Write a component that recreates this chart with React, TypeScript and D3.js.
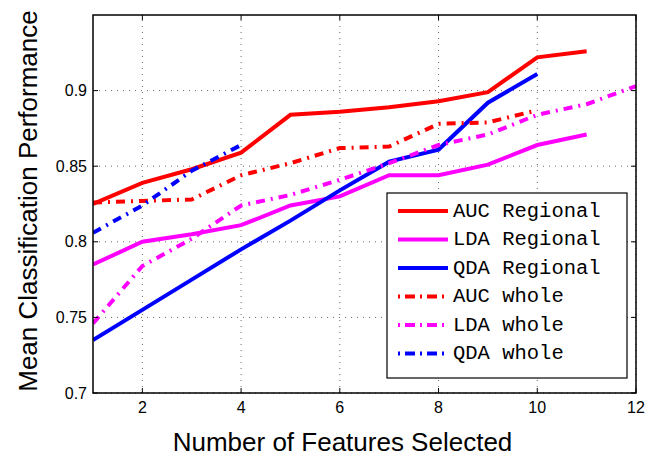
import * as d3 from 'd3'

const features = [1, 2, 3, 4, 5, 6, 7, 8, 9, 10, 11, 12]
const aucRegional = [0.825, 0.839, 0.848, 0.859, 0.884, 0.886, 0.889, 0.893, 0.899, 0.922, 0.926]
const ldaRegional = [0.785, 0.8, 0.805, 0.811, 0.824, 0.83, 0.844, 0.844, 0.851, 0.864, 0.871]
const qdaRegional = [0.735, 0.755, 0.775, 0.795, 0.814, 0.834, 0.853, 0.861, 0.892, 0.911]
const aucWhole = [0.826, 0.827, 0.828, 0.844, 0.852, 0.862, 0.863, 0.878, 0.879, 0.887]
const ldaWhole = [0.746, 0.784, 0.802, 0.824, 0.831, 0.841, 0.852, 0.864, 0.871, 0.884, 0.891, 0.903]
const qdaWhole = [0.806, 0.824, 0.847, 0.864]

const xTicks = [2, 4, 6, 8, 10, 12]
const yTicks = [0.7, 0.75, 0.8, 0.85, 0.9]
const yTickLabels = ['0.7', '0.75', '0.8', '0.85', '0.9']

const seriesNames = ['AUC Regional', 'LDA Regional', 'QDA Regional', 'AUC whole', 'LDA whole', 'QDA whole']
const seriesValues = [aucRegional, ldaRegional, qdaRegional, aucWhole, ldaWhole, qdaWhole]
const seriesColors = ['#ff0000', '#ff00ff', '#0000ff', '#ff0000', '#ff00ff', '#0000ff']
const seriesDashed = [false, false, false, true, true, true]

const width = 645
const height = 457
const margin = { top: 15, right: 9, bottom: 64, left: 93 }
const dashDot = '9,6,2,6'

const App = () => {
  const x = d3.scaleLinear().domain([1, 12]).range([margin.left, width - margin.right])
  const y = d3.scaleLinear().domain([0.7, 0.95]).range([height - margin.bottom, margin.top])
  const x0 = x.range()[0]
  const x1 = x.range()[1]
  const y0 = y.range()[0]
  const y1 = y.range()[1]

  const line = d3
    .line<number>()
    .x((_, i) => x(features[i]))
    .y((d) => y(d))

  const legend = { left: 387, top: 193, right: 627, bottom: 378, row0: 211, rowGap: 28.5 }

  return (
    <svg
      width={width}
      height={height}
      style={{ position: 'absolute', left: 0, top: 0, background: 'white' }}
      fontFamily="'Liberation Sans', Arial, sans-serif"
    >
      <defs>
        <clipPath id="plot">
          <rect x={x0} y={y1} width={x1 - x0} height={y0 - y1} />
        </clipPath>
      </defs>
      <rect x={0} y={0} width={width} height={height} fill="white" />

      {/* grid */}
      {xTicks.map((t) => (
        <line key={'gx' + t} x1={x(t)} x2={x(t)} y1={y0} y2={y1} stroke="#444" strokeWidth={0.8} strokeDasharray="1,5" />
      ))}
      {yTicks.map((t) => (
        <line key={'gy' + t} x1={x0} x2={x1} y1={y(t)} y2={y(t)} stroke="#444" strokeWidth={0.8} strokeDasharray="1,5" />
      ))}

      {/* series */}
      <g clipPath="url(#plot)">
        {seriesValues.map((vals, i) => (
          <path
            key={seriesNames[i]}
            d={line(vals) ?? ''}
            fill="none"
            stroke={seriesColors[i]}
            strokeWidth={4}
            strokeDasharray={seriesDashed[i] ? dashDot : undefined}
          />
        ))}
      </g>

      {/* ticks (inward, all four sides) */}
      {xTicks.map((t) => (
        <g key={'tx' + t}>
          <line x1={x(t)} x2={x(t)} y1={y0} y2={y0 - 5} stroke="black" />
          <line x1={x(t)} x2={x(t)} y1={y1} y2={y1 + 5} stroke="black" />
          <text x={x(t)} y={413} textAnchor="middle" fontSize={16}>
            {t}
          </text>
        </g>
      ))}
      {yTicks.map((t, i) => (
        <g key={'ty' + t}>
          <line x1={x0} x2={x0 + 5} y1={y(t)} y2={y(t)} stroke="black" />
          <line x1={x1} x2={x1 - 5} y1={y(t)} y2={y(t)} stroke="black" />
          <text x={x0 - 6} y={y(t)} textAnchor="end" dominantBaseline="central" fontSize={16}>
            {yTickLabels[i]}
          </text>
        </g>
      ))}

      {/* axes box */}
      <rect x={x0} y={y1} width={x1 - x0} height={y0 - y1} fill="none" stroke="black" strokeWidth={1.5} />

      {/* axis titles */}
      <text x={(x0 + x1) / 2 - 22} y={451} textAnchor="middle" fontSize={26}>
        Number of Features Selected
      </text>
      <text
        transform={`translate(37, ${(y0 + y1) / 2 - 3}) rotate(-90)`}
        textAnchor="middle"
        fontSize={26}
      >
        Mean Classification Performance
      </text>

      {/* legend */}
      <rect
        x={legend.left}
        y={legend.top}
        width={legend.right - legend.left}
        height={legend.bottom - legend.top}
        fill="white"
        stroke="black"
        strokeWidth={1.2}
      />
      {seriesNames.map((name, i) => {
        const cy = legend.row0 + i * legend.rowGap
        return (
          <g key={'lg' + name}>
            <line
              x1={398}
              x2={448}
              y1={cy}
              y2={cy}
              stroke={seriesColors[i]}
              strokeWidth={4}
              strokeDasharray={seriesDashed[i] ? '2,5,10,5' : undefined}
            />
            <text
              x={453}
              y={cy}
              dominantBaseline="central"
              fontSize={20.5}
              fontFamily="'Courier New', 'Liberation Mono', monospace"
            >
              {name}
            </text>
          </g>
        )
      })}
    </svg>
  )
}

export default App
